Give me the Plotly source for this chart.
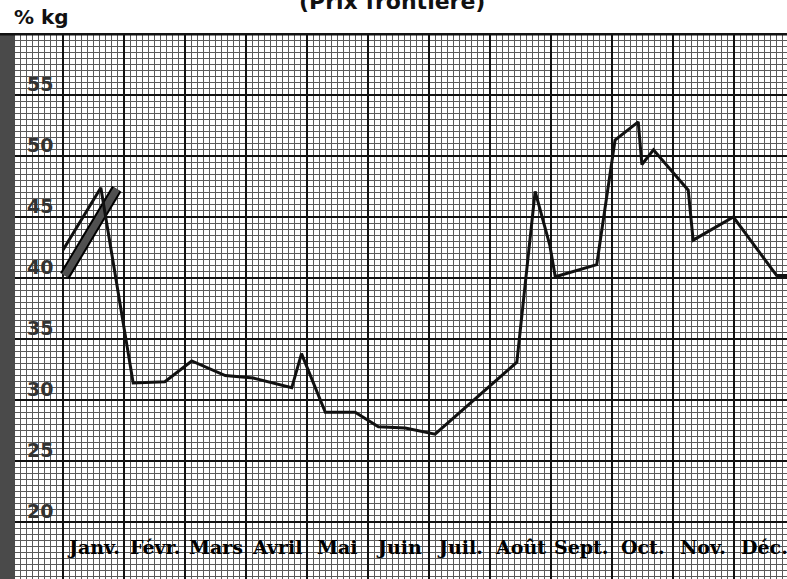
import plotly.graph_objects as go

# ---- data ----
months = ["Janv.", "Févr.", "Mars", "Avril", "Mai", "Juin", "Juil.", "Août", "Sept.", "Oct.", "Nov.", "Déc."]
y_tick_values = [20, 25, 30, 35, 40, 45, 50, 55]
y_tick_labels = ["20", "25", "30", "35", "40", "45", "50", "55"]

# price curve: x in months from start of January
price_x = [0.0, 0.62, 1.15, 1.67, 2.11, 2.66, 3.12, 3.75, 3.91, 4.30, 4.79, 5.17, 5.61, 6.10,
           7.44, 7.74, 7.98, 8.07, 8.75, 9.05, 9.43, 9.49, 9.68, 10.25, 10.33, 10.99, 11.70, 11.95]
price_y = [42.3, 47.4, 31.4, 31.5, 33.2, 32.0, 31.8, 31.0, 33.8, 29.0, 29.0, 27.8, 27.7, 27.2,
           33.1, 47.1, 42.7, 40.1, 41.1, 51.3, 52.8, 49.3, 50.5, 47.2, 43.1, 45.0, 40.2, 40.2]

# shaded bar (January)
bar_x = [0.03, 0.88]
bar_y = [40.2, 47.3]

x_range = [-1.033, 11.869]
y_range = [15.33, 60.08]

fig = go.Figure()

fig.add_trace(go.Scatter(x=bar_x, y=bar_y, mode="lines",
                         line=dict(color="black", width=11), hoverinfo="skip", showlegend=False))
fig.add_trace(go.Scatter(x=bar_x, y=bar_y, mode="lines",
                         line=dict(color="#505050", width=7), hoverinfo="skip", showlegend=False))
fig.add_trace(go.Scatter(x=price_x, y=price_y, mode="lines",
                         line=dict(color="#111111", width=3), showlegend=False))

annotations = []
for i, m in enumerate(months):
    annotations.append(dict(x=i + 0.5, y=17.95, text=m, showarrow=False, xref="x", yref="y",
                            font=dict(family="DejaVu Serif", size=19, color="#000000", weight="bold")))
for v, t in zip(y_tick_values, y_tick_labels):
    annotations.append(dict(x=-0.38, y=v + 0.88, text=t, showarrow=False, xref="x", yref="y",
                            font=dict(family="DejaVu Sans", size=19, color="#333333", weight="bold")))

plot_h = 579 - 33
def py(px):
    return 1 + (33 - px) / plot_h

annotations.append(dict(x=12 / 787, y=py(17), xref="paper", yref="paper", text="% kg",
                        showarrow=False, xanchor="left", yanchor="middle",
                        font=dict(family="DejaVu Sans", size=20, color="#111111", weight="bold")))
annotations.append(dict(x=392 / 787, y=py(2), xref="paper", yref="paper", text="(Prix frontière)",
                        showarrow=False, xanchor="center", yanchor="middle",
                        font=dict(family="DejaVu Sans", size=22, color="#111111", weight="bold")))

fig.update_layout(
    width=787, height=579,
    margin=dict(l=0, r=0, t=33, b=0),
    paper_bgcolor="white", plot_bgcolor="white",
    showlegend=False,
    annotations=annotations,
    xaxis=dict(range=x_range, showticklabels=False, ticks="", zeroline=False,
               showgrid=True, dtick=1, tick0=0, gridcolor="#111111", gridwidth=2,
               minor=dict(dtick=0.1, tick0=0, showgrid=True, gridcolor="#5a5a5a", gridwidth=1)),
    yaxis=dict(range=y_range, showticklabels=False, ticks="", zeroline=False,
               showgrid=True, dtick=5, tick0=0, gridcolor="#111111", gridwidth=2,
               minor=dict(dtick=0.5, tick0=0, showgrid=True, gridcolor="#5a5a5a", gridwidth=1)),
)

# dark scanned edge on the left and heavy top border
fig.add_shape(type="rect", xref="x", yref="y", x0=x_range[0], x1=-0.787, y0=y_range[0], y1=y_range[1],
              fillcolor="#4a4a4a", line=dict(width=0), layer="above")
fig.add_shape(type="line", xref="x", yref="y", x0=x_range[0], x1=x_range[1], y0=60, y1=60,
              line=dict(color="#111111", width=3), layer="above")

fig.write_html("out.html", config={"displayModeBar": False},
               post_script="document.body.style.margin='0';document.body.style.overflow='hidden';")
